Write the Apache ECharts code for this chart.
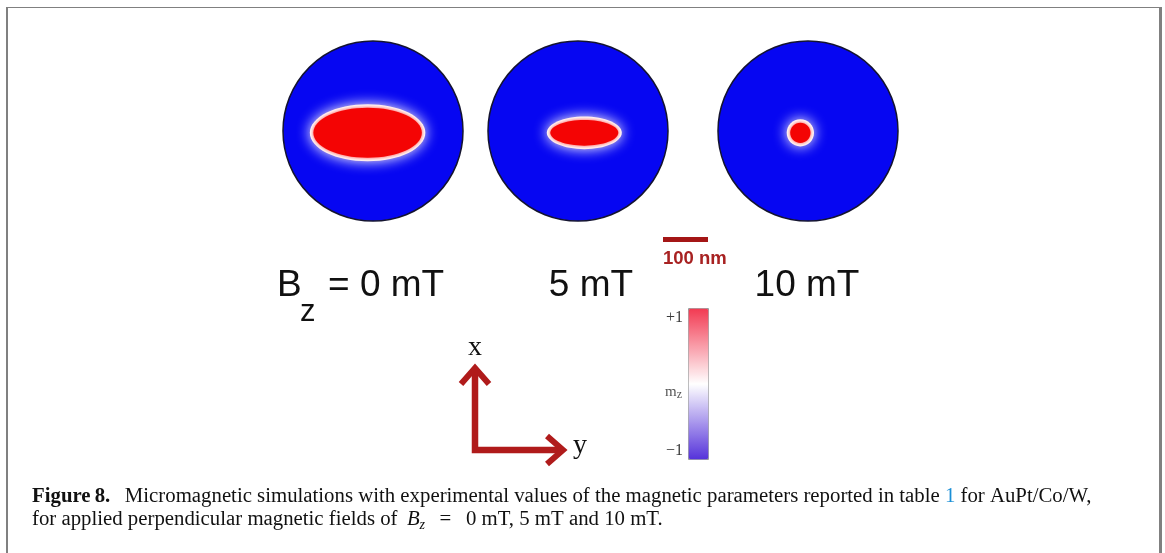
<!DOCTYPE html>
<html><head><meta charset="utf-8">
<script src="https://cdn.jsdelivr.net/npm/echarts@6/dist/echarts.min.js"></script>
<style>html,body{margin:0;padding:0;background:#fff}#c{width:1165px;height:553px}</style>
</head><body><div id="c"></div>
<script>
// ---- data ----
const fieldsMT = [0, 5, 10];                 // applied field Bz (mT)
const diskDiameterNm = [400, 400, 400];      // disk diameter (nm)
const skyrmionLenY = [250, 160, 54];         // skyrmion size along y (horizontal), nm
const skyrmionLenX = [120, 66, 54];          // skyrmion size along x (vertical), nm
const skyrmionPosY = [-12, 14, -17];         // skyrmion centre offset along y, nm
const skyrmionPosX = [-4, -4, -4];           // skyrmion centre offset along x, nm
const scaleBarNm = [100];                    // scale bar length, nm
const colorbarRange = [-1, 1];               // m_z range
const colorbarTickLabels = ['+1', '\u22121'];

// ---- layout / style ----
const panelCX = [373, 578, 808];
const panelCY = 131;
const panelPx = 180;
const axisHalf = 200;
const RED = '#f40404', BLUE = '#0606f2', DARKRED = '#b01b1b';

const grids = [], xAxes = [], yAxes = [], series = [];
fieldsMT.forEach((f, i) => {
  grids.push({left: panelCX[i] - panelPx / 2, top: panelCY - panelPx / 2, width: panelPx, height: panelPx});
  xAxes.push({gridIndex: i, type: 'value', min: -axisHalf, max: axisHalf, show: false});
  yAxes.push({gridIndex: i, type: 'value', min: -axisHalf, max: axisHalf, show: false});
  series.push({
    type: 'custom', xAxisIndex: i, yAxisIndex: i, clip: false, silent: true,
    data: [[skyrmionPosY[i], skyrmionPosX[i], skyrmionLenY[i], skyrmionLenX[i], diskDiameterNm[i]]],
    renderItem: (params, api) => {
      const o = api.coord([0, 0]);
      const c = api.coord([api.value(0), api.value(1)]);
      const dR = api.size([api.value(4), 0])[0] / 2;
      const s = api.size([api.value(2), api.value(3)]);
      const rx = s[0] / 2, ry = s[1] / 2;
      return {type: 'group', children: [
        {type: 'circle', shape: {cx: o[0], cy: o[1], r: dR}, style: {fill: BLUE, stroke: '#141430', lineWidth: 1.5}},
        {type: 'ellipse', shape: {cx: c[0], cy: c[1], rx: rx + 1.5, ry: ry + 1.5},
          style: {fill: '#ffffff', shadowBlur: 14, shadowColor: '#ffffff'}},
        {type: 'ellipse', shape: {cx: c[0], cy: c[1], rx: rx - 2, ry: ry - 2},
          style: {fill: RED, shadowBlur: 4, shadowColor: 'rgba(255,40,40,0.9)'}}
      ]};
    }
  });
});
// scale bar, in the nm scale of the panels
series.push({
  type: 'custom', xAxisIndex: 1, yAxisIndex: 1, clip: false, silent: true,
  data: [[scaleBarNm[0]]],
  renderItem: (params, api) => {
    const len = api.size([api.value(0), 0])[0];
    const x0 = 663, y0 = 239.5;
    return {type: 'group', children: [
      {type: 'line', shape: {x1: x0, y1: y0, x2: x0 + len, y2: y0}, style: {stroke: '#a41616', lineWidth: 5}},
      {type: 'text', style: {x: x0, y: 259, text: api.value(0) + ' nm', fill: '#a82222',
        font: 'bold 18.5px "Liberation Sans", Arial, sans-serif', align: 'left', verticalAlign: 'middle'}}
    ]};
  }
});

const sans = '"Liberation Sans", Arial, sans-serif';
const serif = '"Liberation Serif", "Times New Roman", serif';
const CAP = 20.8;
const graphics = [
  // frame
  {type: 'line', shape: {x1: 7, y1: 553, x2: 7, y2: 7}, style: {stroke: '#808080', lineWidth: 2}},
  {type: 'line', shape: {x1: 6, y1: 7.5, x2: 1161, y2: 7.5}, style: {stroke: '#808080', lineWidth: 1.2}},
  {type: 'line', shape: {x1: 1160.5, y1: 7, x2: 1160.5, y2: 553}, style: {stroke: '#808080', lineWidth: 3}},
  // panel labels
  {type: 'text', style: {x: 277, y: 286, text: 'B', font: '37px ' + sans, fill: '#111', verticalAlign: 'middle'}},
  {type: 'text', style: {x: 300, y: 312, text: 'z', font: '31px ' + sans, fill: '#111', verticalAlign: 'middle'}},
  {type: 'text', style: {x: 328, y: 286, text: '= ' + fieldsMT[0] + ' mT', font: '37px ' + sans, fill: '#111', verticalAlign: 'middle'}},
  {type: 'text', style: {x: 591, y: 286, text: fieldsMT[1] + ' mT', font: '37px ' + sans, fill: '#111', align: 'center', verticalAlign: 'middle'}},
  {type: 'text', style: {x: 807, y: 286, text: fieldsMT[2] + ' mT', font: '37px ' + sans, fill: '#111', align: 'center', verticalAlign: 'middle'}},
  // colorbar labels
  {type: 'text', style: {x: 683, y: 318, text: colorbarTickLabels[0], font: '16px ' + serif, fill: '#3a3a3a', align: 'right', verticalAlign: 'middle'}},
  {type: 'text', style: {x: 683, y: 451, text: colorbarTickLabels[1], font: '16px ' + serif, fill: '#3a3a3a', align: 'right', verticalAlign: 'middle'}},
  {type: 'text', style: {x: 665, y: 392, text: '{m|m}{s|z}', font: '15px ' + serif, fill: '#555', verticalAlign: 'middle',
    rich: {m: {fontSize: 15, fontFamily: serif, fill: '#555', lineHeight: 18}, s: {fontSize: 12, fontFamily: serif, fill: '#555', lineHeight: 13, verticalAlign: 'bottom'}}}},
  // coordinate arrows
  {type: 'polyline', shape: {points: [[475, 370], [475, 450], [560, 450]]}, style: {stroke: DARKRED, lineWidth: 6.5, fill: null, lineJoin: 'miter', lineCap: 'butt'}},
  {type: 'polyline', shape: {points: [[461, 384], [475, 368], [489, 384]]}, style: {stroke: DARKRED, lineWidth: 6, fill: null, lineJoin: 'miter'}},
  {type: 'polyline', shape: {points: [[547, 436], [563, 450], [547, 464]]}, style: {stroke: DARKRED, lineWidth: 6, fill: null, lineJoin: 'miter'}},
  {type: 'text', style: {x: 475, y: 348, text: 'x', font: '28px ' + serif, fill: '#111', align: 'center', verticalAlign: 'middle'}},
  {type: 'text', style: {x: 580, y: 446, text: 'y', font: '28px ' + serif, fill: '#111', align: 'center', verticalAlign: 'middle'}},
  // caption
  {type: 'text', style: {x: 32, y: 497,
    text: '{b|Figure\u20098.}{n|\u2002\u2009Micromagnetic simulations with experimental values of the magnetic parameters reported in table }{l|1}{n| for AuPt/Co/W,}',
    font: CAP + 'px ' + serif, verticalAlign: 'middle',
    rich: {b: {fontWeight: 'bold', fontSize: CAP, fontFamily: serif, fill: '#111', lineHeight: 24},
           n: {fontSize: CAP, fontFamily: serif, fill: '#111', lineHeight: 24},
           l: {fontSize: CAP, fontFamily: serif, fill: '#1a8fd6', lineHeight: 24}}}},
  {type: 'text', style: {x: 32, y: 520,
    text: '{n|for applied perpendicular magnetic fields of\u2009 }{i|B}{s|z}{n|\u2002\u2009=\u2002\u20090 mT, 5 mT and 10 mT.}',
    font: CAP + 'px ' + serif, verticalAlign: 'middle',
    rich: {n: {fontSize: CAP, fontFamily: serif, fill: '#111', lineHeight: 24},
           i: {fontSize: CAP, fontStyle: 'italic', fontFamily: serif, fill: '#111', lineHeight: 24},
           s: {fontSize: 14, fontStyle: 'italic', fontFamily: serif, fill: '#111', lineHeight: 15, verticalAlign: 'bottom'}}}}
];

const chart = echarts.init(document.getElementById('c'), null, {renderer: 'canvas'});
chart.setOption({
  animation: false,
  backgroundColor: '#ffffff',
  grid: grids, xAxis: xAxes, yAxis: yAxes, series: series,
  visualMap: [{
    type: 'continuous', min: colorbarRange[0], max: colorbarRange[1], seriesIndex: [],
    left: 688, top: 308, itemWidth: 20, itemHeight: 151, padding: 0,
    text: null, showLabel: false, calculable: false, realtime: false,
    borderColor: '#9a9a9a', borderWidth: 1,
    inRange: {color: ['#5532da', '#ffffff', '#f23a52']}
  }],
  graphic: graphics
});
</script></body></html>
